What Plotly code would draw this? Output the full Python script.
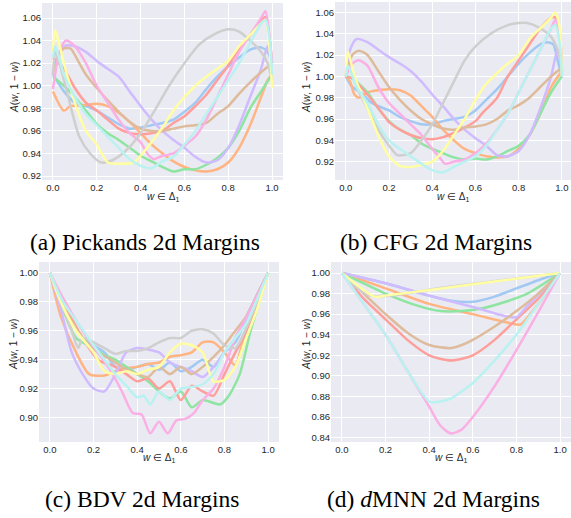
import plotly.graph_objects as go

# ---------------- colours (seaborn pastel) ----------------
COLOR_NAMES = ["blue", "orange", "green", "red", "purple", "brown", "pink", "gray", "yellow", "cyan"]
COLORS = ["#a1c9f4", "#ffb482", "#8de5a1", "#ff9f9b", "#d0bbff",
          "#debb9b", "#fab0e4", "#cfcfcf", "#fffea3", "#b9f2f0"]

# ---------------- (a) Pickands ----------------
pick_blue = [(0,1.01),(0.05,0.995),(0.1,0.985),(0.15,0.982),(0.2,0.978),(0.25,0.972),(0.3,0.966),(0.35,0.962),(0.4,0.963),(0.45,0.965),(0.5,0.967),(0.55,0.97),(0.6,0.977),(0.65,0.985),(0.7,0.997),(0.75,1.008),(0.8,1.017),(0.85,1.025),(0.9,1.032),(0.95,1.034),(0.98,1.03),(1.0,1.02)]
pick_orange = [(0,0.995),(0.05,0.978),(0.08,0.982),(0.15,0.983),(0.2,0.984),(0.25,0.982),(0.3,0.976),(0.35,0.968),(0.4,0.958),(0.45,0.948),(0.5,0.94),(0.55,0.933),(0.6,0.928),(0.65,0.925),(0.7,0.924),(0.75,0.926),(0.8,0.932),(0.85,0.945),(0.9,0.965),(0.95,0.99),(0.98,1.005),(1.0,1.01)]
pick_green = [(0,1.008),(0.05,1.0),(0.1,0.99),(0.15,0.978),(0.2,0.966),(0.25,0.958),(0.3,0.952),(0.35,0.945),(0.4,0.938),(0.45,0.933),(0.5,0.928),(0.55,0.924),(0.6,0.926),(0.65,0.926),(0.7,0.93),(0.75,0.936),(0.8,0.945),(0.85,0.96),(0.9,0.98),(0.95,0.995),(1.0,1.01)]
pick_red = [(0,1.025),(0.05,1.015),(0.1,0.998),(0.15,0.985),(0.2,0.978),(0.25,0.97),(0.3,0.962),(0.35,0.958),(0.4,0.957),(0.45,0.958),(0.5,0.96),(0.55,0.967),(0.6,0.973),(0.65,0.982),(0.7,0.992),(0.75,1.005),(0.8,1.018),(0.85,1.033),(0.9,1.045),(0.95,1.058),(0.97,1.061),(0.99,1.04),(1.0,1.02)]
pick_purple = [(0,1.01),(0.05,1.035),(0.1,1.035),(0.15,1.03),(0.2,1.022),(0.25,1.015),(0.3,1.008),(0.35,0.995),(0.4,0.982),(0.45,0.97),(0.5,0.96),(0.55,0.952),(0.6,0.945),(0.65,0.937),(0.7,0.932),(0.75,0.934),(0.8,0.945),(0.85,0.965),(0.9,0.99),(0.95,1.015),(0.98,1.035),(1.0,1.02)]
pick_brown = [(0,1.01),(0.02,1.025),(0.05,1.033),(0.08,1.033),(0.12,1.02),(0.15,1.01),(0.2,0.998),(0.25,0.987),(0.3,0.977),(0.35,0.968),(0.4,0.962),(0.45,0.96),(0.5,0.96),(0.55,0.962),(0.6,0.964),(0.65,0.965),(0.7,0.967),(0.75,0.975),(0.8,0.982),(0.85,0.993),(0.9,1.003),(0.95,1.012),(1.0,1.02)]
pick_pink = [(0,0.997),(0.03,1.03),(0.06,1.04),(0.1,1.035),(0.15,1.02),(0.2,1.0),(0.25,0.985),(0.3,0.97),(0.35,0.958),(0.4,0.95),(0.43,0.94),(0.46,0.935),(0.5,0.938),(0.55,0.94),(0.6,0.947),(0.65,0.955),(0.7,0.97),(0.75,0.99),(0.8,1.01),(0.85,1.03),(0.9,1.045),(0.95,1.06),(0.97,1.066),(0.99,1.04),(1.0,1.02)]
pick_gray = [(0,1.01),(0.01,1.03),(0.03,1.02),(0.07,0.99),(0.12,0.955),(0.17,0.94),(0.22,0.932),(0.27,0.934),(0.33,0.942),(0.4,0.958),(0.47,0.98),(0.53,1.0),(0.6,1.02),(0.67,1.037),(0.74,1.046),(0.8,1.05),(0.85,1.048),(0.9,1.04),(0.95,1.03),(0.98,1.02),(1.0,1.005)]
pick_yellow = [(0,1.03),(0.01,1.049),(0.05,1.02),(0.1,0.985),(0.15,0.96),(0.2,0.948),(0.25,0.932),(0.3,0.931),(0.37,0.932),(0.4,0.938),(0.45,0.95),(0.5,0.963),(0.55,0.978),(0.6,0.99),(0.65,1.0),(0.7,1.008),(0.75,1.015),(0.8,1.022),(0.85,1.035),(0.9,1.045),(0.95,1.055),(0.97,1.058),(0.99,1.03),(1.0,0.998)]
pick_cyan = [(0,1.025),(0.01,1.035),(0.05,1.01),(0.1,0.99),(0.15,0.975),(0.2,0.965),(0.25,0.955),(0.3,0.945),(0.35,0.935),(0.4,0.929),(0.45,0.927),(0.5,0.933),(0.55,0.937),(0.6,0.948),(0.65,0.96),(0.7,0.975),(0.75,0.99),(0.8,1.005),(0.85,1.02),(0.9,1.038),(0.95,1.055),(0.97,1.058),(0.99,1.04),(1.0,1.01)]

# ---------------- (b) CFG ----------------
cfg_blue = [(0,1.0),(0.03,0.99),(0.07,0.985),(0.12,0.975),(0.2,0.968),(0.25,0.962),(0.3,0.958),(0.35,0.955),(0.4,0.955),(0.45,0.958),(0.5,0.96),(0.55,0.962),(0.6,0.968),(0.65,0.978),(0.7,0.988),(0.75,1.0),(0.8,1.012),(0.85,1.022),(0.9,1.03),(0.93,1.032),(0.96,1.03),(0.98,1.015),(1.0,1.0)]
cfg_orange = [(0,1.0),(0.02,0.995),(0.04,0.983),(0.06,0.98),(0.1,0.985),(0.15,0.987),(0.2,0.988),(0.25,0.987),(0.3,0.982),(0.35,0.972),(0.4,0.962),(0.45,0.95),(0.5,0.94),(0.55,0.932),(0.6,0.928),(0.65,0.925),(0.7,0.924),(0.75,0.925),(0.8,0.932),(0.85,0.945),(0.9,0.965),(0.95,0.99),(1.0,1.005)]
cfg_green = [(0,1.0),(0.03,0.998),(0.1,0.985),(0.15,0.97),(0.2,0.958),(0.25,0.95),(0.3,0.945),(0.35,0.937),(0.4,0.932),(0.45,0.928),(0.5,0.924),(0.55,0.922),(0.6,0.923),(0.65,0.922),(0.7,0.925),(0.75,0.93),(0.8,0.935),(0.85,0.945),(0.9,0.965),(0.95,0.985),(1.0,1.0)]
cfg_red = [(0,1.0),(0.03,0.998),(0.07,0.99),(0.12,0.978),(0.17,0.965),(0.2,0.957),(0.25,0.95),(0.3,0.945),(0.35,0.942),(0.4,0.941),(0.45,0.943),(0.5,0.947),(0.55,0.952),(0.6,0.958),(0.63,0.965),(0.7,0.98),(0.75,1.0),(0.8,1.015),(0.85,1.03),(0.9,1.045),(0.95,1.055),(0.97,1.055),(0.99,1.04),(1.0,1.005)]
cfg_purple = [(0,1.0),(0.02,1.025),(0.05,1.035),(0.1,1.032),(0.15,1.025),(0.2,1.018),(0.25,1.012),(0.3,1.005),(0.35,0.995),(0.4,0.983),(0.45,0.972),(0.5,0.96),(0.55,0.95),(0.6,0.942),(0.65,0.935),(0.7,0.926),(0.75,0.925),(0.8,0.93),(0.85,0.945),(0.9,0.97),(0.95,1.0),(0.98,1.025),(1.0,1.005)]
cfg_brown = [(0,1.0),(0.03,1.02),(0.06,1.024),(0.1,1.02),(0.15,1.005),(0.2,0.99),(0.25,0.978),(0.3,0.968),(0.35,0.96),(0.4,0.955),(0.45,0.951),(0.5,0.95),(0.55,0.952),(0.6,0.953),(0.65,0.955),(0.7,0.96),(0.75,0.968),(0.8,0.973),(0.85,0.98),(0.9,0.99),(0.95,1.0),(1.0,1.008)]
cfg_pink = [(0,1.0),(0.03,1.012),(0.06,1.015),(0.1,1.01),(0.15,0.99),(0.2,0.975),(0.25,0.965),(0.3,0.955),(0.35,0.945),(0.4,0.932),(0.43,0.925),(0.46,0.918),(0.5,0.92),(0.55,0.922),(0.6,0.928),(0.65,0.937),(0.7,0.95),(0.75,0.965),(0.8,0.985),(0.85,1.005),(0.9,1.025),(0.95,1.045),(0.97,1.053),(0.99,1.04),(1.0,1.0)]
cfg_gray = [(0,1.0),(0.01,1.01),(0.05,0.99),(0.1,0.97),(0.15,0.95),(0.2,0.935),(0.24,0.926),(0.3,0.928),(0.35,0.94),(0.4,0.955),(0.45,0.975),(0.5,0.995),(0.55,1.015),(0.6,1.028),(0.67,1.04),(0.75,1.048),(0.8,1.05),(0.84,1.05),(0.9,1.045),(0.95,1.037),(0.98,1.025),(1.0,1.01)]
cfg_yellow = [(0,1.0),(0.01,1.023),(0.04,1.0),(0.08,0.98),(0.12,0.96),(0.16,0.94),(0.2,0.925),(0.25,0.916),(0.3,0.915),(0.35,0.917),(0.4,0.92),(0.45,0.93),(0.5,0.945),(0.55,0.96),(0.6,0.978),(0.65,0.993),(0.7,1.003),(0.75,1.012),(0.8,1.02),(0.85,1.035),(0.9,1.045),(0.95,1.055),(0.97,1.06),(0.99,1.045),(1.0,1.0)]
cfg_cyan = [(0,1.0),(0.01,1.01),(0.05,0.99),(0.1,0.975),(0.15,0.955),(0.2,0.94),(0.25,0.932),(0.3,0.925),(0.35,0.918),(0.4,0.912),(0.45,0.91),(0.5,0.915),(0.55,0.92),(0.6,0.925),(0.65,0.935),(0.7,0.95),(0.75,0.965),(0.8,0.985),(0.85,1.005),(0.9,1.025),(0.95,1.045),(0.97,1.048),(0.99,1.03),(1.0,1.0)]

# ---------------- (c) BDV ----------------
bdv_blue = [(0,1.0),(0.06,0.978),(0.15,0.955),(0.25,0.945),(0.3,0.935),(0.35,0.933),(0.4,0.935),(0.45,0.937),(0.5,0.933),(0.55,0.938),(0.6,0.932),(0.65,0.935),(0.7,0.94),(0.75,0.935),(0.8,0.945),(0.85,0.952),(0.9,0.968),(0.95,0.985),(1.0,1.0)]
bdv_orange = [(0,1.0),(0.05,0.97),(0.12,0.945),(0.18,0.93),(0.25,0.929),(0.3,0.932),(0.35,0.934),(0.4,0.935),(0.45,0.937),(0.5,0.938),(0.55,0.942),(0.6,0.943),(0.65,0.945),(0.7,0.952),(0.75,0.952),(0.8,0.945),(0.85,0.936),(0.88,0.95),(0.93,0.97),(1.0,1.0)]
bdv_green = [(0,1.0),(0.06,0.975),(0.12,0.955),(0.2,0.948),(0.25,0.943),(0.3,0.94),(0.35,0.935),(0.4,0.93),(0.45,0.925),(0.5,0.918),(0.55,0.913),(0.6,0.918),(0.65,0.907),(0.7,0.912),(0.75,0.91),(0.78,0.909),(0.82,0.915),(0.87,0.93),(0.92,0.96),(1.0,1.0)]
bdv_red = [(0,1.0),(0.06,0.98),(0.15,0.955),(0.22,0.94),(0.3,0.935),(0.35,0.93),(0.4,0.925),(0.45,0.927),(0.5,0.92),(0.55,0.925),(0.6,0.912),(0.65,0.922),(0.7,0.918),(0.75,0.915),(0.8,0.93),(0.85,0.945),(0.92,0.965),(1.0,1.0)]
bdv_purple = [(0,1.0),(0.05,0.975),(0.1,0.945),(0.15,0.93),(0.2,0.92),(0.25,0.918),(0.3,0.93),(0.35,0.945),(0.4,0.948),(0.45,0.947),(0.5,0.945),(0.55,0.938),(0.6,0.935),(0.65,0.932),(0.7,0.928),(0.75,0.935),(0.8,0.945),(0.85,0.955),(0.9,0.97),(0.95,0.985),(1.0,1.0)]
bdv_brown = [(0,1.0),(0.06,0.977),(0.15,0.955),(0.22,0.945),(0.28,0.94),(0.33,0.935),(0.4,0.93),(0.45,0.928),(0.5,0.935),(0.55,0.93),(0.6,0.935),(0.65,0.93),(0.7,0.935),(0.75,0.942),(0.8,0.95),(0.85,0.96),(0.9,0.97),(0.95,0.985),(1.0,1.0)]
bdv_pink = [(0,1.0),(0.07,0.98),(0.15,0.96),(0.22,0.945),(0.28,0.932),(0.33,0.918),(0.38,0.903),(0.42,0.902),(0.46,0.889),(0.5,0.897),(0.54,0.889),(0.58,0.898),(0.62,0.899),(0.66,0.903),(0.7,0.912),(0.75,0.92),(0.8,0.935),(0.85,0.955),(0.92,0.975),(1.0,1.0)]
bdv_gray = [(0,1.0),(0.05,0.98),(0.1,0.96),(0.13,0.948),(0.15,0.955),(0.2,0.952),(0.25,0.948),(0.3,0.944),(0.35,0.946),(0.4,0.946),(0.45,0.948),(0.5,0.952),(0.55,0.955),(0.6,0.955),(0.65,0.96),(0.7,0.961),(0.75,0.958),(0.8,0.95),(0.85,0.948),(0.9,0.962),(0.95,0.98),(1.0,1.0)]
bdv_yellow = [(0,1.0),(0.05,0.98),(0.12,0.96),(0.2,0.945),(0.25,0.932),(0.3,0.93),(0.35,0.932),(0.4,0.93),(0.45,0.933),(0.5,0.935),(0.55,0.945),(0.6,0.951),(0.65,0.95),(0.7,0.945),(0.75,0.925),(0.8,0.926),(0.85,0.935),(0.9,0.955),(0.95,0.975),(1.0,1.0)]
bdv_cyan = [(0,1.0),(0.06,0.98),(0.13,0.965),(0.2,0.95),(0.25,0.94),(0.3,0.93),(0.35,0.922),(0.4,0.914),(0.43,0.915),(0.46,0.909),(0.5,0.918),(0.55,0.912),(0.6,0.92),(0.65,0.921),(0.7,0.923),(0.75,0.93),(0.8,0.945),(0.85,0.955),(0.9,0.965),(0.95,0.982),(1.0,1.0)]

# ---------------- (d) dMNN ----------------
mnn_blue = [(0,1.0),(0.2,0.99),(0.4,0.978),(0.5,0.973),(0.6,0.972),(0.7,0.977),(0.8,0.985),(0.9,0.993),(1.0,1.0)]
mnn_orange = [(0,1.0),(0.2,0.985),(0.4,0.97),(0.6,0.96),(0.8,0.95),(0.82,0.95),(0.9,0.97),(1.0,1.0)]
mnn_green = [(0,1.0),(0.1,0.99),(0.2,0.98),(0.35,0.968),(0.45,0.963),(0.55,0.963),(0.65,0.966),(0.75,0.972),(0.85,0.98),(1.0,1.0)]
mnn_red = [(0,1.0),(0.1,0.975),(0.2,0.955),(0.3,0.935),(0.4,0.92),(0.5,0.915),(0.6,0.92),(0.7,0.935),(0.8,0.955),(0.9,0.975),(1.0,1.0)]
mnn_purple = [(0,1.0),(0.2,0.99),(0.4,0.978),(0.6,0.967),(0.75,0.958),(0.8,0.957),(0.85,0.968),(1.0,1.0)]
mnn_brown = [(0,1.0),(0.1,0.98),(0.2,0.96),(0.3,0.942),(0.4,0.93),(0.5,0.927),(0.55,0.93),(0.6,0.935),(0.7,0.948),(0.8,0.963),(0.9,0.98),(1.0,1.0)]
mnn_pink = [(0,1.0),(0.1,0.97),(0.2,0.94),(0.3,0.905),(0.4,0.87),(0.45,0.852),(0.5,0.844),(0.55,0.848),(0.6,0.86),(0.7,0.89),(0.8,0.925),(0.9,0.962),(1.0,1.0)]
mnn_gray = [(0,1.0),(0.13,0.978),(0.5,0.987),(1.0,1.0)]
mnn_yellow = [(0,1.0),(0.15,0.977),(0.2,0.978),(0.6,0.989),(1.0,1.0)]
mnn_cyan = [(0,1.0),(0.1,0.97),(0.2,0.94),(0.3,0.905),(0.4,0.875),(0.45,0.875),(0.5,0.878),(0.6,0.893),(0.7,0.915),(0.8,0.94),(0.9,0.97),(1.0,1.0)]

PANELS = [
    [pick_blue, pick_orange, pick_green, pick_red, pick_purple, pick_brown, pick_pink, pick_gray, pick_yellow, pick_cyan],
    [cfg_blue, cfg_orange, cfg_green, cfg_red, cfg_purple, cfg_brown, cfg_pink, cfg_gray, cfg_yellow, cfg_cyan],
    [bdv_blue, bdv_orange, bdv_green, bdv_red, bdv_purple, bdv_brown, bdv_pink, bdv_gray, bdv_yellow, bdv_cyan],
    [mnn_blue, mnn_orange, mnn_green, mnn_red, mnn_purple, mnn_brown, mnn_pink, mnn_gray, mnn_yellow, mnn_cyan],
]
CAPTIONS = ["(a) Pickands 2d Margins", "(b) CFG 2d Margins", "(c) BDV 2d Margins", "(d) <i>d</i>MNN 2d Margins"]
X_TITLE = "<i>w</i> ∈ Δ<sub>1</sub>"
Y_TITLE = "<i>A</i>(<i>w</i>, 1 − <i>w</i>)"
X_TICKS = [0.0, 0.2, 0.4, 0.6, 0.8, 1.0]
Y_TICKS = [
    [0.92, 0.94, 0.96, 0.98, 1.00, 1.02, 1.04, 1.06],
    [0.92, 0.94, 0.96, 0.98, 1.00, 1.02, 1.04, 1.06],
    [0.90, 0.92, 0.94, 0.96, 0.98, 1.00],
    [0.84, 0.86, 0.88, 0.90, 0.92, 0.94, 0.96, 0.98, 1.00],
]

# ---------------- layout geometry (pixels) ----------------
W, H = 571, 518
X_DOMAINS = [(42, 283), (335, 571), (39, 279), (331, 571)]
Y_DOMAINS = [(3, 180), (2, 180), (262, 442), (262, 442)]
X_RANGES = [(-0.05, 1.05), (-0.05, 1.042), (-0.05, 1.05), (-0.05, 1.05)]
Y_RANGES = [(0.9165, 1.0733), (0.9028, 1.0697), (0.883, 1.0076), (0.8357, 1.0107)]
CAPTION_POS = [(145, 242), (436, 242), (142, 499), (433, 499)]
XTITLE_Y = [197, 197, 458, 458]
YTITLE_POS = [(14, 88), (306, 88), (13, 345), (306, 345)]

fig = go.Figure()
tick_font = dict(family="Liberation Sans, Arial, sans-serif", size=9.5, color="#262626")
title_font = dict(family="Liberation Sans, Arial, sans-serif", size=10, color="#262626")
layout = dict(
    width=W, height=H, margin=dict(l=0, r=0, t=0, b=0, autoexpand=False),
    paper_bgcolor="white", plot_bgcolor="#EAEAF2", showlegend=False,
    annotations=[],
)
for p in range(4):
    sfx = "" if p == 0 else str(p + 1)
    for ci, series in enumerate(PANELS[p]):
        fig.add_trace(go.Scatter(
            x=[pt[0] for pt in series], y=[pt[1] for pt in series],
            mode="lines", line=dict(color=COLORS[ci], width=2.5, shape="spline", smoothing=0.7),
            xaxis="x" + sfx, yaxis="y" + sfx, name=COLOR_NAMES[ci], hoverinfo="skip",
        ))
    x0, x1 = X_DOMAINS[p]
    y0, y1 = Y_DOMAINS[p]
    layout["xaxis" + sfx] = dict(
        domain=[x0 / W, x1 / W], range=list(X_RANGES[p]), anchor="y" + sfx,
        tickvals=X_TICKS, tickformat=".1f", showgrid=True, gridcolor="white", gridwidth=1.2,
        zeroline=False, showline=False, ticks="", ticklen=0, tickfont=tick_font,
        automargin=False, ticklabeloverflow="allow",
    )
    layout["yaxis" + sfx] = dict(
        domain=[1 - y1 / H, 1 - y0 / H], range=list(Y_RANGES[p]), anchor="x" + sfx,
        tickvals=Y_TICKS[p], tickformat=".2f", showgrid=True, gridcolor="white", gridwidth=1.2,
        zeroline=False, showline=False, ticks="", ticklen=0, tickfont=tick_font,
        automargin=False, ticklabeloverflow="allow",
    )
    # axis titles
    layout["annotations"].append(dict(
        text=X_TITLE, x=(x0 + x1) / 2 / W, y=1 - XTITLE_Y[p] / H, xref="paper", yref="paper",
        showarrow=False, xanchor="center", yanchor="middle", font=title_font,
    ))
    tx, ty = YTITLE_POS[p]
    layout["annotations"].append(dict(
        text=Y_TITLE, x=tx / W, y=1 - ty / H, xref="paper", yref="paper", textangle=-90,
        showarrow=False, xanchor="center", yanchor="middle", font=title_font,
    ))
    cx, cy = CAPTION_POS[p]
    layout["annotations"].append(dict(
        text=CAPTIONS[p], x=cx / W, y=1 - cy / H, xref="paper", yref="paper",
        showarrow=False, xanchor="center", yanchor="middle",
        font=dict(family="Liberation Serif, Times New Roman, serif", size=23.5, color="black"),
    ))

fig.update_layout(**layout)
fig.write_html(
    "out.html",
    config={"displayModeBar": False},
    post_script="document.body.style.margin='0';document.body.style.padding='0';",
)
